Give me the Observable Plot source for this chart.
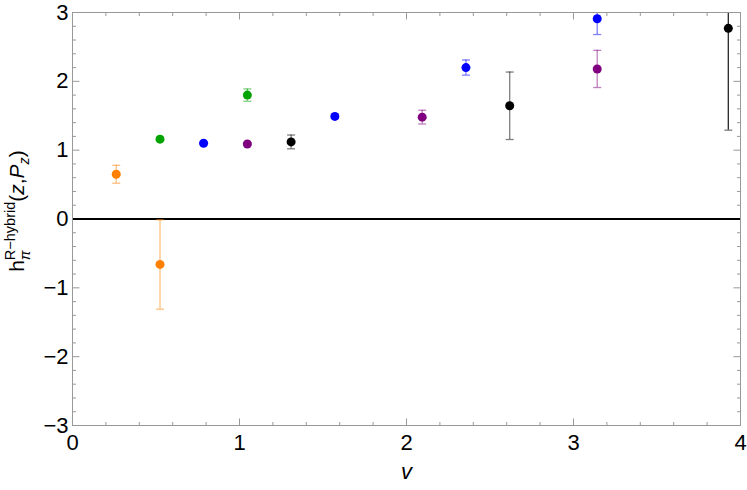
<!DOCTYPE html>
<html><head><meta charset="utf-8">
<script src="https://cdn.jsdelivr.net/npm/d3@7"></script>
<script src="https://cdn.jsdelivr.net/npm/@observablehq/plot@0.6"></script>
<style>body{margin:0;background:#fff;}</style>
</head><body><div id="chart"></div>
<script>
// ---- data ----
const seriesNames = ["orange", "green", "blue", "purple", "black"];
const orangeV = [0.262, 0.524];
const orangeH = [0.65, -0.66];
const orangeErr = [0.13, 0.65];
const greenV = [0.524, 1.047];
const greenH = [1.16, 1.80];
const greenErr = [0.03, 0.09];
const blueV = [0.785, 1.571, 2.356, 3.142];
const blueH = [1.10, 1.49, 2.20, 2.91];
const blueErr = [0.02, 0.03, 0.11, 0.23];
const purpleV = [1.047, 2.094, 3.142];
const purpleH = [1.09, 1.48, 2.18];
const purpleErr = [0.02, 0.10, 0.27];
const blackV = [1.309, 2.618, 3.927];
const blackH = [1.12, 1.645, 2.77];
const blackErr = [0.10, 0.49, 1.48];
const xTicks = [0, 1, 2, 3, 4];
const yTicks = [-3, -2, -1, 0, 1, 2, 3];
const xDomain = [0, 4];
const yDomain = [-3, 3];

// ---- styling ----
const colors = {orange: "#FF8000", green: "#00A300", blue: "#0000FF", purple: "#800080", black: "#000000"};
const FONT = "'Liberation Sans', Arial, sans-serif";
const FRAME = "#999999";

const raw = {orange: [orangeV, orangeH, orangeErr], green: [greenV, greenH, greenErr],
  blue: [blueV, blueH, blueErr], purple: [purpleV, purpleH, purpleErr], black: [blackV, blackH, blackErr]};
const data = seriesNames.flatMap(s => raw[s][0].map((v, i) => ({s, v, h: raw[s][1][i], e: raw[s][2][i]})));

const minorX = d3.range(xDomain[0], xDomain[1] + 1e-9, 0.2).filter(d => Math.abs(d - Math.round(d)) > 1e-6);
const minorY = d3.range(yDomain[0], yDomain[1] + 1e-9, 0.2).filter(d => Math.abs(d - Math.round(d)) > 1e-6);

// custom line symbols: length = r pixels
const sym = (dx, dy) => ({draw(ctx, size) { const L = Math.sqrt(size / Math.PI); ctx.moveTo(0, 0); ctx.lineTo(dx * L, dy * L); }});
const capSym = {draw(ctx, size) { const L = Math.sqrt(size / Math.PI); ctx.moveTo(-L, 0); ctx.lineTo(L, 0); }};
const up = sym(0, -1), down = sym(0, 1), right = sym(1, 0), left = sym(-1, 0);

const tickMarks = (vals, r) => [
  Plot.dot(vals.x, {x: d => d, y: yDomain[0], symbol: up, r, stroke: FRAME, strokeWidth: 1}),
  Plot.dot(vals.x, {x: d => d, y: yDomain[1], symbol: down, r, stroke: FRAME, strokeWidth: 1}),
  Plot.dot(vals.y, {y: d => d, x: xDomain[0], symbol: right, r, stroke: FRAME, strokeWidth: 1}),
  Plot.dot(vals.y, {y: d => d, x: xDomain[1], symbol: left, r, stroke: FRAME, strokeWidth: 1})
];

const minus = d => d < 0 ? "\u2212" + (-d) : String(d);

const chart = Plot.plot({
  width: 747, height: 490,
  marginLeft: 72, marginRight: 7, marginTop: 12, marginBottom: 65,
  style: {fontFamily: FONT, background: "white"},
  x: {domain: xDomain, ticks: xTicks, tickFormat: minus, label: null},
  y: {domain: yDomain, ticks: yTicks, tickFormat: minus, label: null},
  marks: [
    Plot.axisX({ticks: xTicks, tickSize: 0, tickPadding: 9, fontSize: 22, tickFormat: minus, label: null}),
    Plot.axisY({ticks: yTicks, tickSize: 0, tickPadding: 4, fontSize: 22, tickFormat: minus, label: null}),
    ...tickMarks({x: minorX, y: minorY}, 3.5),
    ...tickMarks({x: xTicks, y: yTicks}, 7),
    Plot.ruleY([0], {stroke: "black", strokeWidth: 2}),
    Plot.ruleX(data, {x: "v", y1: d => d.h - d.e, y2: d => d.h + d.e, stroke: d => colors[d.s],
      strokeOpacity: d => d.v > 3.5 ? 0.85 : 0.5, strokeWidth: 1.3, clip: true}),
    Plot.dot(data, {x: "v", y: d => d.h - d.e, symbol: capSym, r: 4, stroke: d => colors[d.s],
      strokeOpacity: 0.5, strokeWidth: 1.3, clip: true}),
    Plot.dot(data, {x: "v", y: d => d.h + d.e, symbol: capSym, r: 4, stroke: d => colors[d.s],
      strokeOpacity: 0.5, strokeWidth: 1.3, clip: true}),
    Plot.dot(data, {x: "v", y: "h", r: 4.5, fill: d => colors[d.s], stroke: "none"}),
    Plot.frame({stroke: FRAME, strokeWidth: 1}),
    Plot.text(["v"], {frameAnchor: "bottom", dy: 53, fontSize: 22, fontStyle: "italic", fill: "black", fontFamily: FONT})
  ]
});
document.getElementById("chart").append(chart);

// ---- rich y-axis label: h_π^{R−hybrid}(z,P_z) ----
const svg = d3.select(chart);
const g = svg.append("g").attr("font-family", FONT).attr("fill", "black").attr("text-anchor", "start");
const big = 21, small = 14.5;
const parts = [
  {t: "h", size: big, dy: 0, style: "normal"},
  {t: "\u03C0", size: small, dy: 6, style: "italic", stack: true},
  {t: "R\u2212hybrid", size: small, dy: -9.5, style: "normal"},
  {t: "(", size: big, dy: 0, style: "normal"},
  {t: "z", size: big, dy: 0, style: "italic"},
  {t: ",", size: big, dy: 0, style: "normal"},
  {t: "P", size: big, dy: 0, style: "italic"},
  {t: "z", size: small, dy: 5, style: "italic"},
  {t: ")", size: big, dy: 0, style: "normal"}
];
const inner = g.append("g");
let x = 0, pendingStack = 0;
parts.forEach(p => {
  const el = inner.append("text").attr("font-size", p.size).attr("font-style", p.style)
    .attr("text-anchor", "start").attr("x", x).attr("y", p.dy).text(p.t);
  const w = el.node().getComputedTextLength();
  if (p.stack) { pendingStack = w; }
  else { x += Math.max(w, pendingStack); pendingStack = 0; }
});
const total = x;
const cx = 24, cy = 211;
g.attr("transform", `translate(${cx},${cy + total / 2}) rotate(-90)`);
</script>
</body></html>
